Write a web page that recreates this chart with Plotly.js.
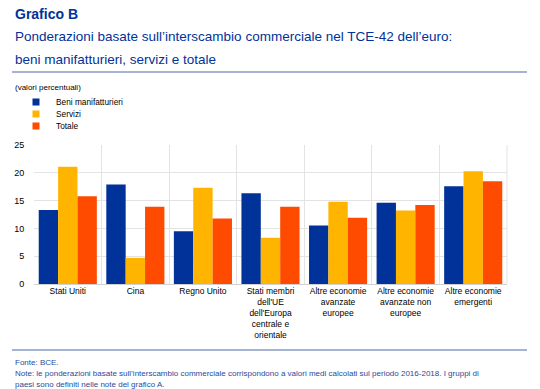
<!DOCTYPE html>
<html><head><meta charset="utf-8">
<script src="https://cdn.plot.ly/plotly-3.0.1.min.js"></script>
<style>body{margin:0;background:#fff}#c{width:540px;height:389px}</style>
</head><body><div id="c"></div>
<script>
var categories = ["Stati Uniti","Cina","Regno Unito","Stati membri<br>dell'UE<br>dell'Europa<br>centrale e<br>orientale","Altre economie<br>avanzate<br>europee","Altre economie<br>avanzate non<br>europee","Altre economie<br>emergenti"];
var beni = [13.3, 17.9, 9.5, 16.3, 10.5, 14.6, 17.6];
var servizi = [21.1, 4.7, 17.3, 8.3, 14.8, 13.2, 20.3];
var totale = [15.8, 13.9, 11.8, 13.9, 11.9, 14.2, 18.5];
var seriesNames = ["Beni manifatturieri","Servizi","Totale"];
var yTicks = [0,5,10,15,20,25];

var colors = ["#003299","#FFB400","#FF4B00"];
var font = "Liberation Sans, Arial, sans-serif";
var navy = "#003299";
var noteColor = "#2a4a9a";
var L=34, R=507, T=145, B=284;
function px(x){return (x-L)/(R-L);}
function py(y){return (B-y)/(B-T);}

var legendNames = ["legend","legend2","legend3"];
var legendY = [102, 114, 126];
var data = [];
[beni, servizi, totale].forEach(function(v,i){
  data.push({type:"bar", x:categories, y:v, name:seriesNames[i], marker:{color:colors[i], line:{width:0}}, showlegend:false});
});
seriesNames.forEach(function(n,i){
  data.push({type:"scatter", mode:"markers", x:[null], y:[null], name:n, legend:legendNames[i],
    marker:{symbol:"square", size:7, color:colors[i]}, showlegend:true});
});

var layout = {
  width:540, height:389,
  margin:{l:L, r:540-R, t:T, b:389-B},
  paper_bgcolor:"#fff", plot_bgcolor:"#fff",
  font:{family:font, size:9, color:"#000"},
  barmode:"group", bargap:0.14, bargroupgap:0,
  showlegend:true,
  xaxis:{type:"category", tickson:"boundaries", showgrid:true, gridcolor:"#e3e3e3", gridwidth:1,
    ticks:"outside", ticklen:8, tickcolor:"rgba(0,0,0,0)", showline:false, zeroline:false,
    tickfont:{size:8.5, family:font, color:"#000"}, tickangle:0},
  yaxis:{range:[0,25], tickvals:yTicks, showgrid:true, gridcolor:"#e3e3e3", zeroline:true, zerolinecolor:"#d0d0d0",
    ticks:"outside", ticklen:7, tickcolor:"rgba(0,0,0,0)", showline:false, tickfont:{size:9, family:font, color:"#000"}, automargin:false},
  shapes:[
    {type:"line", xref:"paper", yref:"paper", x0:px(12), x1:px(527), y0:py(72), y1:py(72), line:{color:"#4a6aa5", width:1.2}},
    {type:"line", xref:"paper", yref:"paper", x0:px(12), x1:px(527), y0:py(350), y1:py(350), line:{color:"#4a6aa5", width:1.2}},
    {type:"line", xref:"paper", yref:"paper", x0:1, x1:1, y0:0, y1:1, line:{color:"#e3e3e3", width:1}}
  ],
  annotations:[
    {text:"<b>Grafico B</b>", xref:"paper", yref:"paper", x:px(13), y:py(14), xanchor:"left", yanchor:"middle", showarrow:false, font:{size:14, family:font, color:navy}},
    {text:"Ponderazioni basate sull’interscambio commerciale nel TCE-42 dell’euro:", xref:"paper", yref:"paper", x:px(13), y:py(37), xanchor:"left", yanchor:"middle", showarrow:false, font:{size:13.5, family:font, color:navy}},
    {text:"beni manifatturieri, servizi e totale", xref:"paper", yref:"paper", x:px(13), y:py(59), xanchor:"left", yanchor:"middle", showarrow:false, font:{size:13.5, family:font, color:navy}},
    {text:"(valori percentuali)", xref:"paper", yref:"paper", x:px(13), y:py(87), xanchor:"left", yanchor:"middle", showarrow:false, font:{size:8, family:font, color:"#000"}},
    {text:"Fonte: BCE.", xref:"paper", yref:"paper", x:px(13), y:py(362), xanchor:"left", yanchor:"middle", showarrow:false, font:{size:8, family:font, color:noteColor}},
    {text:"Note: le ponderazioni basate sull’interscambio commerciale corrispondono a valori medi calcolati sul periodo 2016-2018. I gruppi di", xref:"paper", yref:"paper", x:px(13), y:py(373), xanchor:"left", yanchor:"middle", showarrow:false, font:{size:8, family:font, color:noteColor}},
    {text:"paesi sono definiti nelle note del grafico A.", xref:"paper", yref:"paper", x:px(13), y:py(384), xanchor:"left", yanchor:"middle", showarrow:false, font:{size:8, family:font, color:noteColor}}
  ]
};
legendNames.forEach(function(n,i){
  layout[n] = {x:px(16), y:py(legendY[i]), xanchor:"left", yanchor:"middle",
    font:{size:8.3, family:font, color:"#000"}, itemwidth:30, bgcolor:"rgba(0,0,0,0)", borderwidth:0};
});
Plotly.newPlot("c", data, layout, {staticPlot:true, displayModeBar:false});
</script></body></html>
